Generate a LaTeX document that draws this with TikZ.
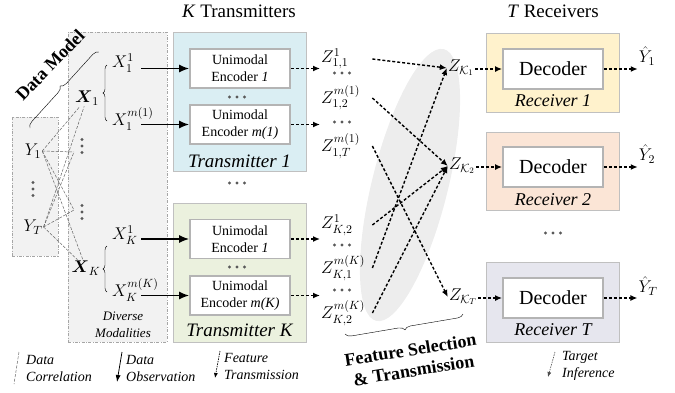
\RequirePackage{fix-cm}
\documentclass[tikz,border=0pt]{standalone}
\usepackage{amsmath,amssymb}
\usepackage{fontspec}
\setmainfont{Liberation Serif}
\usetikzlibrary{arrows.meta,positioning,decorations.pathreplacing}
\definecolor{txblue}{HTML}{DAEEF3}
\definecolor{txgreen}{HTML}{EBF1DE}
\definecolor{rxyellow}{HTML}{FFF2CC}
\definecolor{rxpeach}{HTML}{FBE5D6}
\definecolor{rxgray}{HTML}{E6E6EE}
\definecolor{boxline}{HTML}{C0C0C0}
\definecolor{encline}{HTML}{B4B4B4}
\definecolor{modfill}{HTML}{F2F2F2}
\definecolor{modline}{HTML}{A6A6A6}
\definecolor{ellfill}{HTML}{EDEDED}
\definecolor{dotgray}{HTML}{595959}
\begin{document}
\begin{tikzpicture}[x=1pt,y=1pt,>=Latex,
  panel/.style={draw=boxline,line width=0.8pt,minimum width=133pt,inner sep=0pt},
  modbox/.style={draw=modline,fill=modfill,line width=0.6pt,dash pattern=on 3pt off 1.5pt on 0.8pt off 1.5pt,inner sep=0pt},
  enc/.style={draw=encline,line width=1.8pt,fill=white,align=center,minimum width=100pt,minimum height=39pt,inner sep=0pt,font=\fontsize{14}{17}\selectfont},
  dec/.style={draw=encline,line width=1.8pt,fill=white,minimum width=100pt,minimum height=40pt,inner sep=0pt,font=\fontsize{20}{22}\selectfont},
  tag/.style={font=\fontsize{19}{20}\selectfont\itshape,inner sep=0pt},
  rtag/.style={font=\fontsize{18}{20}\selectfont\itshape,inner sep=0pt},
  head/.style={font=\fontsize{19}{20}\selectfont,inner sep=0pt},
  sym/.style={font=\fontsize{17}{18}\selectfont,inner sep=1pt},
  zlab/.style={sym,anchor=west,text width=50pt,align=left},
  legend/.style={font=\fontsize{14}{17}\selectfont\itshape,align=left,anchor=west,inner sep=0pt},
  obs/.style={-{Latex[length=10pt,width=8pt]},line width=1.5pt},
  feat/.style={-{Latex[length=7pt,width=6pt]},line width=1.4pt,dash pattern=on 3pt off 2pt},
  corr/.style={black!60,line width=0.5pt,dash pattern=on 3pt off 1.5pt},
  hdots/.pic={\foreach \i in {-1,0,1}{\fill[dotgray] (\i*7.5,0) circle (1.6pt);}},
  vdots/.pic={\foreach \i in {-1,0,1}{\fill[dotgray] (0,\i*6.5) circle (1.6pt);}}]
\useasboundingbox (0,0) rectangle (675,-392);
% backgrounds
\node[modbox,minimum width=46pt,minimum height=139pt] (ybox) at (35,-186.5) {};
\node[modbox,minimum width=99pt,minimum height=310pt] (xbox) at (117.5,-187) {};
\fill[ellfill,rotate around={76:(410,-185)}] (410,-185) ellipse [x radius=140pt,y radius=38pt];
\node[head] (ttx) at (239,-11) {\textit{K} Transmitters};
\node[head] (trx) at (553,-11) {\textit{T} Receivers};
% data model
\node[rotate=46,font=\fontsize{18}{20}\selectfont\bfseries,inner sep=0pt] (dm) at (50,-65) {Data Model};
\draw[decorate,decoration={brace,amplitude=6pt}] (30,-128) -- (99,-52);
\node[sym] (y1) at (33,-151) {$Y_1$};
\node[sym] (yT) at (33,-227) {$Y_T$};
\node[sym] (x1) at (87,-98) {$\boldsymbol{X}_1$};
\node[sym] (xK) at (86,-268) {$\boldsymbol{X}_K$};
\coordinate (c1) at (74,-152);
\coordinate (c2) at (74,-210);
\foreach \a in {y1,yT}{\foreach \b in {x1,c1,c2,xK}{\draw[corr] (\a.east) -- (\b);}}
\foreach \p in {(33,-189),(82,-146),(82,-212)}{\pic at \p {vdots};}
\draw[decorate,decoration={brace,amplitude=4pt}] (107,-121) -- (107,-65);
\draw[decorate,decoration={brace,amplitude=4pt}] (107,-292) -- (107,-246);
\node[sym,anchor=west] (x11) at (111,-63) {$X_1^{1}$};
\node[sym,anchor=west] (x1m) at (111,-119) {$X_1^{m(1)}$};
\node[sym,anchor=west] (xK1) at (111,-235) {$X_K^{1}$};
\node[sym,anchor=west] (xKm) at (111,-290) {$X_K^{m(K)}$};
\node[font=\fontsize{13}{17}\selectfont\itshape,align=center,inner sep=0pt] (divm) at (123,-325) {Diverse\\Modalities};
% transmitters
\node[panel,fill=txblue,minimum height=139pt] (tx1) at (239.5,-101.5) {};
\node[panel,fill=txgreen,minimum height=139pt] (txK) at (239.5,-272.5) {};
\node[enc] (e11) at (240,-68.5) {Unimodal\\Encoder \textit{1}};
\node[enc] (e1m) at (240,-124.5) {Unimodal\\Encoder \textit{m(1)}};
\node[enc] (eK1) at (240,-239) {Unimodal\\Encoder \textit{1}};
\node[enc] (eKm) at (240,-295.5) {Unimodal\\Encoder \textit{m(K)}};
\node[tag] (t1) at (239.5,-161) {Transmitter 1};
\node[tag] (tK) at (239.5,-330) {Transmitter K};
\foreach \p in {(237,-97),(237,-183),(237,-267),(342,-73),(342,-122),(342,-245),(342,-290),(553,-233)}{\pic at \p {hdots};}
\foreach \a/\b in {x11/e11,x1m/e1m,xK1/eK1,xKm/eKm}{\draw[obs] ([xshift=30pt]\a.west |- \b.west) -- (\b.west);}
% features
\node[zlab] (z11) at (320,-59) {$Z^{1}_{1,1}$};
\node[zlab] (z12) at (320,-98) {$Z^{m(1)}_{1,2}$};
\node[zlab] (z1T) at (320,-146) {$Z^{m(1)}_{1,T}$};
\node[zlab] (zK2) at (320,-225) {$Z^{1}_{K,2}$};
\node[zlab] (zKm1) at (320,-268) {$Z^{m(K)}_{K,1}$};
\node[zlab] (zKm2) at (320,-313) {$Z^{m(K)}_{K,2}$};
\foreach \a/\b in {e11/z11,e1m/z11,eK1/z11,eKm/z11}{\draw[feat] (\a.east) -- (\a.east -| \b.west);}
% receivers
\node[panel,fill=rxyellow,minimum height=79pt] (rx1) at (553,-72.5) {};
\node[panel,fill=rxpeach,minimum height=78pt] (rx2) at (553,-171) {};
\node[panel,fill=rxgray,minimum height=80pt] (rxT) at (553,-302) {};
\node[dec] (dec1) at (553,-69) {Decoder};
\node[dec] (dec2) at (553,-167) {Decoder};
\node[dec] (decT) at (553,-298) {Decoder};
\node[rtag] (r1) at (553,-101) {Receiver 1};
\node[rtag] (r2) at (553,-200) {Receiver 2};
\node[rtag] (rT) at (553,-330) {Receiver T};
\node[sym] (zk1) at (461,-68) {$Z_{\mathcal{K}_1}$};
\node[sym] (zk2) at (462,-166) {$Z_{\mathcal{K}_2}$};
\node[sym] (zkT) at (463,-297) {$Z_{\mathcal{K}_T}$};
\node[sym] (yh1) at (647,-56) {$\hat{Y}_1$};
\node[sym] (yh2) at (647,-154) {$\hat{Y}_2$};
\node[sym] (yhT) at (648,-286) {$\hat{Y}_T$};
\foreach \a/\b in {z11/zk1,z12/zk2,z1T/zkT,zK2/zk2,zKm1/zk1,zKm2/zk2}{\draw[feat] (\a.east) -- (\b.west);}
\foreach \k in {1,2,T}{
  \draw[feat] (zk\k.east |- dec\k.west) -- (dec\k.west);
  \draw[feat] (dec\k.east) -- (dec\k.east -| yh\k.west);}
\draw[decorate,decoration={brace,amplitude=6pt}] (463,-314) -- (345,-334);
\node[rotate=9,font=\fontsize{18}{21}\selectfont\bfseries,align=center,inner sep=0pt] (fsel) at (412,-360) {Feature Selection\\\& Transmission};
% legend
\draw[corr] (19,-352) -- (14,-384);
\node[legend] (lg1) at (26,-368) {Data\\Correlation};
\draw[-{Latex[length=7pt,width=5pt]},line width=0.8pt] (122,-352) -- (117,-382);
\node[legend] (lg2) at (126,-368) {Data\\Observation};
\draw[-{Latex[length=5pt,width=4pt]},line width=0.7pt,dash pattern=on 1.5pt off 1pt] (220,-351) -- (215,-378);
\node[legend] (lg3) at (224,-366) {Feature\\Transmission};
\draw[-{Latex[length=5pt,width=4pt]},line width=0.6pt,black!70,dash pattern=on 1.5pt off 1pt] (555,-352) -- (548,-377);
\node[legend] (lg4) at (562,-366) {Target\\Inference};
\end{tikzpicture}
\end{document}
